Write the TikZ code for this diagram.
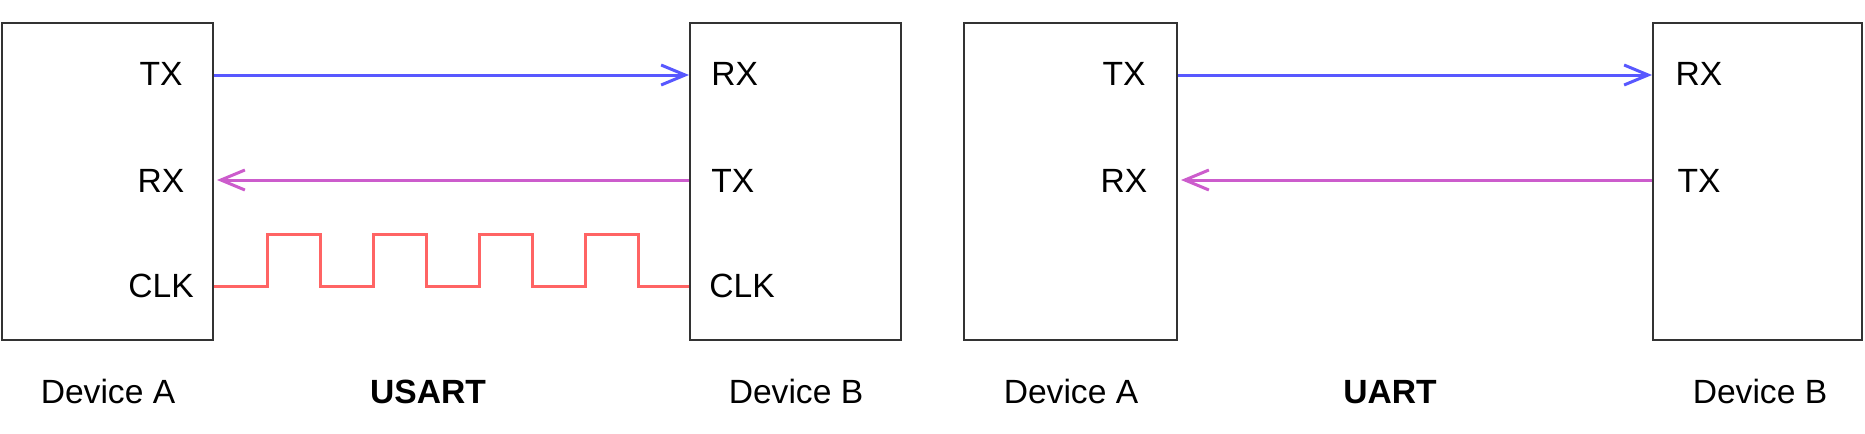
\documentclass[tikz,border=0pt]{standalone}
\usepackage{fontspec}
\setmainfont{Liberation Sans}
\usetikzlibrary{arrows.meta}
\definecolor{boxgray}{HTML}{333333}
\definecolor{txblue}{HTML}{5858FF}
\definecolor{rxmag}{HTML}{CC5CCC}
\definecolor{clkred}{HTML}{FF6464}
\tikzset{
  device/.style={draw=boxgray, line width=1pt, inner sep=0pt, anchor=north west, minimum width=105.5pt, minimum height=158.5pt},
  pin/.style={font=\fontsize{16.8}{20}\selectfont, inner sep=0pt, anchor=base},
  pinw/.style={pin, anchor=base west},
  caption/.style={font=\fontsize{16.8}{20}\selectfont, inner sep=0pt, anchor=base},
  bcaption/.style={caption, font=\fontsize{16.8}{20}\selectfont\bfseries},
  tip/.style={-{Straight Barb[length=12pt,width=10pt,line width=1.5pt]}},
  txline/.style={draw=txblue, line width=1.5pt, tip},
  rxline/.style={draw=rxmag, line width=1.5pt, tip},
  clkline/.style={draw=clkred, line width=1.5pt},
}
\begin{document}
\begin{tikzpicture}[x=0.5pt, y=-0.5pt]
\useasboundingbox (0,0) rectangle (1865,434);
% boxes
\node[device] (A1) at (1,22) {};
\node[device, minimum width=105.5pt] (B1) at (689,22) {};
\node[device, minimum width=106.5pt] (A2) at (963,22) {};
\node[device, minimum width=104.5pt] (B2) at (1652,22) {};
% pin labels
\node[pin] (a1tx) at (161,85) {TX};
\node[pin] (a1rx) at (161,192) {RX};
\node[pin] (a1clk) at (161,297) {CLK};
\node[pinw] (b1rx) at (711,85) {RX};
\node[pinw] (b1tx) at (711,192) {TX};
\node[pinw] (b1clk) at (709,297) {CLK};
\node[pin] (a2tx) at (1124,85) {TX};
\node[pin] (a2rx) at (1124,192) {RX};
\node[pin] (b2rx) at (1699,85) {RX};
\node[pin] (b2tx) at (1699,192) {TX};
% captions
\node[caption] (capA1) at (108,403) {Device A};
\node[bcaption] (capU1) at (428,403) {USART};
\node[caption] (capB1) at (796,403) {Device B};
\node[caption] (capA2) at (1071,403) {Device A};
\node[bcaption] (capU2) at (1390,403) {UART};
\node[caption] (capB2) at (1760,403) {Device B};
% pin coordinates
\coordinate (pA1tx) at (A1.east |- 0,75);
\coordinate (pA1rx) at (A1.east |- 0,180);
\coordinate (pA1clk) at (A1.east |- 0,286);
\coordinate (pB1rx) at (B1.west |- 0,75);
\coordinate (pB1tx) at (B1.west |- 0,180);
\coordinate (pB1clk) at (B1.west |- 0,286);
\coordinate (pA2tx) at (A2.east |- 0,75);
\coordinate (pA2rx) at (A2.east |- 0,180);
\coordinate (pB2rx) at (B2.west |- 0,75);
\coordinate (pB2tx) at (B2.west |- 0,180);
% connectors
\draw[txline] (pA1tx) -- (pB1rx);
\draw[rxline] (pB1tx) -- ([xshift=1.5pt]pA1rx);
\draw[clkline] (pA1clk) -- ++(53,0) -- ++(0,-52) -- ++(53,0) -- ++(0,52)
  -- ++(53,0) -- ++(0,-52) -- ++(53,0) -- ++(0,52)
  -- ++(53,0) -- ++(0,-52) -- ++(53,0) -- ++(0,52)
  -- ++(53,0) -- ++(0,-52) -- ++(53,0) -- ++(0,52) -- (pB1clk);
\draw[txline] (pA2tx) -- (pB2rx);
\draw[rxline] (pB2tx) -- ([xshift=1.5pt]pA2rx);
\end{tikzpicture}
\end{document}
